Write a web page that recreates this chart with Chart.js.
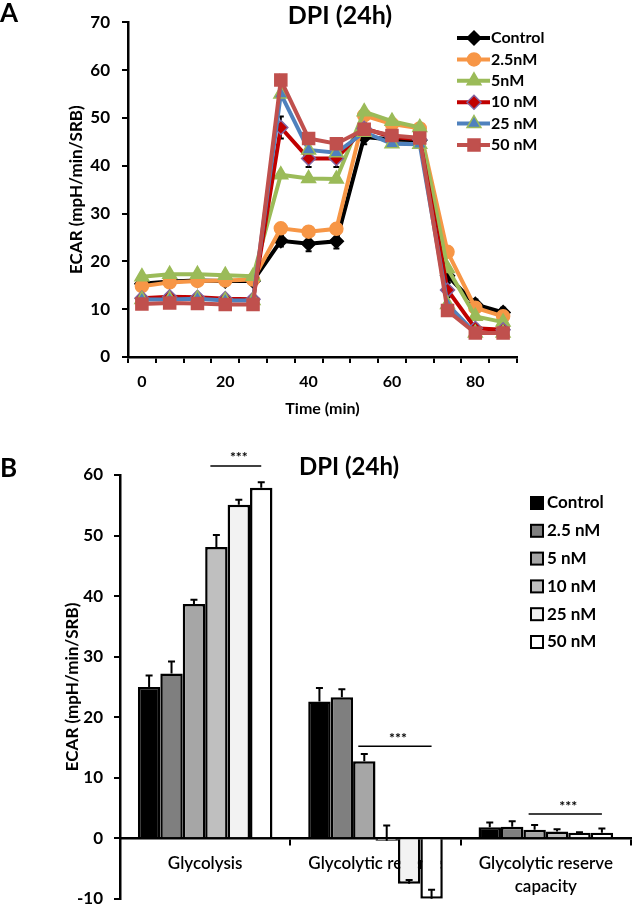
<!DOCTYPE html>
<html>
<head>
<meta charset="utf-8">
<script src="https://cdn.jsdelivr.net/npm/chart.js@4.4.1/dist/chart.umd.min.js"></script>
<style>
  html, body { margin: 0; padding: 0; background: #fff; }
  body { width: 632px; height: 917px; position: relative; overflow: hidden; }
  .panel { position: absolute; left: 0; width: 632px; }
  #boxA { top: 0; height: 430px; }
  #boxB { top: 430px; height: 490px; }
</style>
</head>
<body>
<div class="panel" id="boxA"><canvas id="chartA"></canvas></div>
<div class="panel" id="boxB"><canvas id="chartB"></canvas></div>
<script>
// ---- panel A: ECAR over time ----
const timeLabels = ['0', '', '', '20', '', '', '40', '', '', '60', '', '', '80', ''];
const lineNames = ['Control', '2.5nM', '5nM', '10 nM', '25 nM', '50 nM'];
const control = [15.3, 15.8, 16.0, 15.9, 15.9, 24.3, 23.7, 24.2, 46.0, 45.5, 45.3, 17.0, 11.0, 9.3];
const nM2_5 = [14.8, 15.6, 15.9, 16.0, 16.2, 26.9, 26.2, 26.8, 50.5, 48.7, 47.8, 22.0, 10.3, 8.5];
const nM5 = [16.8, 17.3, 17.3, 17.1, 16.9, 38.1, 37.3, 37.2, 51.3, 49.3, 48.0, 18.5, 8.5, 7.3];
const nM10 = [12.3, 12.6, 12.5, 12.2, 12.1, 48.0, 41.5, 41.5, 47.8, 46.0, 45.5, 14.0, 6.0, 5.7];
const nM25 = [12.0, 12.0, 12.2, 11.8, 11.8, 55.0, 43.3, 42.7, 47.0, 44.6, 44.5, 11.0, 5.0, 5.0];
const nM50 = [11.1, 11.3, 11.2, 11.0, 11.0, 57.9, 45.7, 44.6, 47.6, 46.3, 45.8, 9.7, 5.0, 5.0];
const controlErr = [0.8, 0.8, 0.8, 1.0, 0.8, 1.2, 1.6, 1.5, 1.5, 1.5, 1.0, 1.5, 1.0, 1.0];
const nM10Err = [0.6, 0.6, 0.6, 0.6, 0.6, 2.3, 1.8, 1.8, 1.0, 1.0, 1.0, 1.5, 0.8, 0.8];

// ---- panel B: glycolysis parameters ----
const groups = ['Glycolysis', 'Glycolytic reserve', ['Glycolytic reserve', 'capacity']];
const barNames = ['Control', '2.5 nM', '5 nM', '10 nM', '25 nM', '50 nM'];
const barControl = [25.0, 22.6, 1.8];
const bar2_5 = [27.2, 23.3, 1.9];
const bar5 = [38.7, 12.7, 1.4];
const bar10 = [48.1, -0.4, 1.1];
const bar25 = [55.1, -7.5, 0.9];
const bar50 = [57.9, -10.0, 0.9];
const errControl = [1.9, 2.2, 0.8];
const err2_5 = [2.0, 1.3, 0.9];
const err5 = [0.7, 1.2, 0.8];
const err10 = [2.0, 2.5, 0.4];
const err25 = [0.8, 0.6, 0.1];
const err50 = [0.9, 1.5, 0.7];
const sigGroup = [0, 1, 2];
const sigFrom = [3, 2, 2];
const sigTo = [5, 5, 5];
const sigAt = [61.5, 15.2, 4.0];

const lineColors = ['#000000', '#F79646', '#9BBB59', '#C00000', '#4F81BD', '#C0504D'];
const markerShapes = ['rectRot', 'circle', 'triangle', 'rectRot', 'triangle', 'rect'];
const markerEdges = ['#000000', '#F79646', '#9BBB59', '#8064A2', '#9BBB59', '#C0504D'];
const markerSizes = [7, 6.5, 8, 7, 8, 8.5];
const barColors = ['#000000', '#7F7F7F', '#A6A6A6', '#BFBFBF', '#F2F2F2', '#FFFFFF'];

Chart.defaults.font.family = 'Lato, "Liberation Sans", sans-serif';
Chart.defaults.font.weight = 'bold';
Chart.defaults.color = '#000';

const errorBars = {
  id: 'errorBars',
  draw(chart, o) {
    const ctx = chart.ctx, y = chart.scales.y;
    ctx.save();
    ctx.strokeStyle = '#000';
    ctx.lineWidth = o.width;
    chart.data.datasets.forEach((ds, i) => {
      if (!ds.errors) return;
      chart.getDatasetMeta(i).data.forEach((el, j) => {
        const e = ds.errors[j];
        if (!e) return;
        const v = ds.data[j];
        const top = y.getPixelForValue(v + e);
        const bot = y.getPixelForValue(o.both ? v - e : v);
        ctx.beginPath();
        ctx.moveTo(el.x, bot); ctx.lineTo(el.x, top);
        ctx.moveTo(el.x - o.cap, top); ctx.lineTo(el.x + o.cap, top);
        if (o.both) { ctx.moveTo(el.x - o.cap, bot); ctx.lineTo(el.x + o.cap, bot); }
        ctx.stroke();
      });
    });
    ctx.restore();
  },
  beforeDatasetsDraw(chart, args, o) { if (o.under) this.draw(chart, o); },
  afterDatasetsDraw(chart, args, o) { if (!o.under) this.draw(chart, o); }
};

const panelText = {
  id: 'panelText',
  afterDraw(chart, args, o) {
    const ctx = chart.ctx;
    ctx.save();
    ctx.fillStyle = '#000';
    ctx.textBaseline = 'middle';
    ctx.textAlign = 'left';
    ctx.font = 'bold 26px Lato, sans-serif';
    ctx.fillText(o.letter, o.letterX, o.letterY);
    ctx.textAlign = 'center';
    ctx.font = o.titleFont;
    ctx.fillText(o.title, o.titleX, o.titleY);
    ctx.textAlign = 'left';
    ctx.font = o.legendFont;
    chart.data.datasets.forEach((ds, i) => {
      const x = o.legendX, y = o.legendY + i * o.legendStep;
      if (o.legendKind === 'line') {
        ctx.strokeStyle = ds.borderColor;
        ctx.lineWidth = ds.borderWidth;
        ctx.beginPath(); ctx.moveTo(x, y); ctx.lineTo(x + 33, y); ctx.stroke();
        ctx.fillStyle = ds.pointBackgroundColor;
        ctx.strokeStyle = ds.pointBorderColor;
        ctx.lineWidth = ds.pointBorderWidth;
        Chart.helpers.drawPoint(ctx, { pointStyle: ds.pointStyle, radius: ds.pointRadius, rotation: 0, borderWidth: ds.pointBorderWidth }, x + 17, y);
        ctx.fillStyle = '#000';
        ctx.fillText(ds.label, x + 34, y);
      } else {
        ctx.fillStyle = ds.backgroundColor;
        ctx.fillRect(x, y - 6, 12, 12);
        ctx.strokeStyle = '#000'; ctx.lineWidth = 2;
        ctx.strokeRect(x, y - 6, 12, 12);
        ctx.fillStyle = '#000';
        ctx.fillText(ds.label, x + 16, y);
      }
    });
    ctx.restore();
  }
};

const sigMarks = {
  id: 'sigMarks',
  afterDatasetsDraw(chart) {
    const ctx = chart.ctx, y = chart.scales.y;
    ctx.save();
    ctx.strokeStyle = '#000';
    ctx.fillStyle = '#000';
    ctx.lineWidth = 1.5;
    ctx.font = 'bold 14px Lato, sans-serif';
    ctx.textAlign = 'center';
    ctx.textBaseline = 'middle';
    sigGroup.forEach((g, k) => {
      const x1 = chart.getDatasetMeta(sigFrom[k]).data[g].x;
      const x2 = chart.getDatasetMeta(sigTo[k]).data[g].x;
      const py = y.getPixelForValue(sigAt[k]);
      ctx.beginPath(); ctx.moveTo(x1 - 6, py); ctx.lineTo(x2, py); ctx.stroke();
      ctx.fillText('***', (x1 + x2) / 2, py - 8);
    });
    ctx.restore();
  }
};

const axisLine = { color: '#000', width: 2.5 };
const tickGrid = { drawOnChartArea: false, tickLength: 6, color: '#000', lineWidth: 2 };

const lineSeries = [control, nM2_5, nM5, nM10, nM25, nM50];
const lineErrs = [controlErr, null, null, nM10Err, null, null];

new Chart(document.getElementById('chartA'), {
  type: 'line',
  data: {
    labels: timeLabels,
    datasets: lineSeries.map((d, i) => ({
      label: lineNames[i],
      data: d,
      errors: lineErrs[i],
      borderColor: lineColors[i],
      borderWidth: 4,
      pointStyle: markerShapes[i],
      pointRadius: markerSizes[i],
      pointBackgroundColor: lineColors[i],
      pointBorderColor: markerEdges[i],
      pointBorderWidth: 1.5,
      tension: 0,
      order: 5 - i
    }))
  },
  options: {
    responsive: true,
    maintainAspectRatio: false,
    animation: false,
    layout: { padding: { top: 16, right: 115, left: 0, bottom: 0 } },
    plugins: {
      legend: { display: false },
      tooltip: { enabled: false },
      errorBars: { under: true, both: true, cap: 3, width: 2 },
      panelText: {
        letter: 'A', letterX: 0, letterY: 14,
        title: 'DPI (24h)', titleX: 340, titleY: 16, titleFont: 'bold 25px Lato, sans-serif',
        legendKind: 'line', legendX: 457, legendY: 38, legendStep: 21.4,
        legendFont: 'bold 16px Lato, sans-serif'
      }
    },
    scales: {
      x: {
        offset: true,
        grid: Object.assign({ offset: true }, tickGrid),
        border: axisLine,
        ticks: { autoSkip: false, maxRotation: 0, padding: 9, font: { size: 16, weight: 'bold' } },
        title: { display: true, text: 'Time (min)', font: { size: 16, weight: 'bold' }, padding: { top: 0, bottom: 12 } },
        afterFit: s => { s.height = 73; }
      },
      y: {
        min: 0, max: 70,
        grid: tickGrid,
        border: axisLine,
        ticks: { stepSize: 10, padding: 12, font: { size: 17, weight: 'bold' } },
        title: { display: true, text: 'ECAR (mpH/min/SRB)', font: { size: 17, weight: 'bold' }, padding: { top: 66, bottom: 0 } },
        afterFit: s => { s.width = 128; }
      }
    }
  },
  plugins: [errorBars, panelText]
});

const barSeries = [barControl, bar2_5, bar5, bar10, bar25, bar50];
const barErrs = [errControl, err2_5, err5, err10, err25, err50];

new Chart(document.getElementById('chartB'), {
  type: 'bar',
  data: {
    labels: groups,
    datasets: barSeries.map((d, i) => ({
      label: barNames[i],
      data: d,
      errors: barErrs[i],
      backgroundColor: barColors[i],
      borderColor: '#000',
      borderWidth: 2.5,
      categoryPercentage: 0.79,
      barPercentage: 1.0
    }))
  },
  options: {
    responsive: true,
    maintainAspectRatio: false,
    animation: false,
    layout: { padding: { top: 45, right: 1, left: 0, bottom: 10 } },
    plugins: {
      legend: { display: false },
      tooltip: { enabled: false },
      errorBars: { under: false, both: false, cap: 3.5, width: 2 },
      panelText: {
        letter: 'B', letterX: 0, letterY: 39,
        title: 'DPI (24h)', titleX: 349, titleY: 37, titleFont: 'bold 24px Lato, sans-serif',
        legendKind: 'box', legendX: 531, legendY: 73, legendStep: 27.8,
        legendFont: 'bold 17px Lato, sans-serif'
      }
    },
    scales: {
      x: {
        position: { y: 0 },
        offset: true,
        grid: Object.assign({ offset: true }, tickGrid),
        border: axisLine,
        ticks: { autoSkip: false, maxRotation: 0, padding: 7, font: { size: 17, weight: '600', lineHeight: 1.4 } }
      },
      y: {
        min: -10, max: 60,
        grid: tickGrid,
        border: axisLine,
        ticks: { stepSize: 10, padding: 11, font: { size: 17, weight: 'bold' } },
        title: { display: true, text: 'ECAR (mpH/min/SRB)', font: { size: 17, weight: 'bold' }, padding: { top: 62, bottom: 0 } },
        afterFit: s => { s.width = 120; }
      }
    }
  },
  plugins: [errorBars, panelText, sigMarks]
});
</script>
</body>
</html>
